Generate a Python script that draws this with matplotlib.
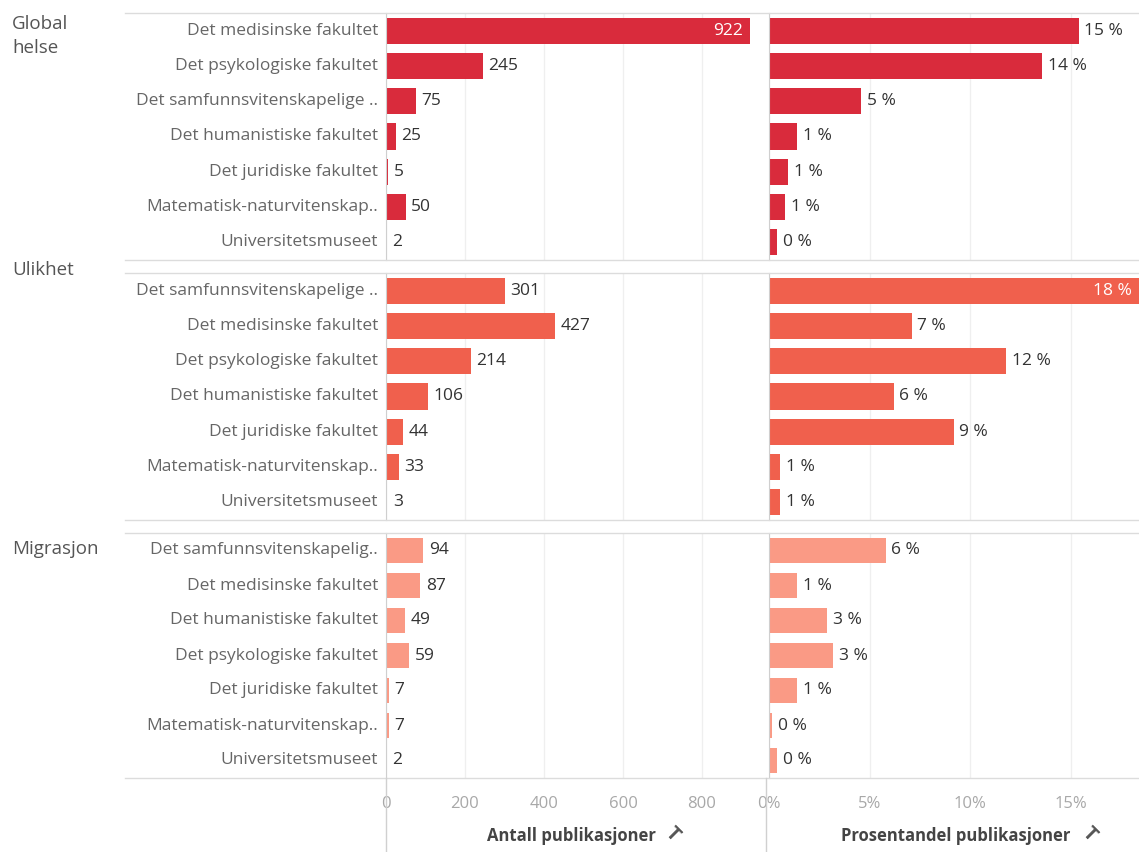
import matplotlib
matplotlib.use('Agg')
import matplotlib.pyplot as plt
from matplotlib.lines import Line2D

plt.rcParams['font.family'] = ['Open Sans', 'DejaVu Sans']

groups = ['Global\nhelse', 'Ulikhet', 'Migrasjon']

labels_global = ['Det medisinske fakultet', 'Det psykologiske fakultet',
                 'Det samfunnsvitenskapelige ..', 'Det humanistiske fakultet',
                 'Det juridiske fakultet', 'Matematisk-naturvitenskap..',
                 'Universitetsmuseet']
labels_ulikhet = ['Det samfunnsvitenskapelige ..', 'Det medisinske fakultet',
                  'Det psykologiske fakultet', 'Det humanistiske fakultet',
                  'Det juridiske fakultet', 'Matematisk-naturvitenskap..',
                  'Universitetsmuseet']
labels_migrasjon = ['Det samfunnsvitenskapelig..', 'Det medisinske fakultet',
                    'Det humanistiske fakultet', 'Det psykologiske fakultet',
                    'Det juridiske fakultet', 'Matematisk-naturvitenskap..',
                    'Universitetsmuseet']

count_global = [922, 245, 75, 25, 5, 50, 2]
count_ulikhet = [301, 427, 214, 106, 44, 33, 3]
count_migrasjon = [94, 87, 49, 59, 7, 7, 2]

# andel (prosent), lest av bildet; etikettene er avrundet
pct_global = [15.4, 13.6, 4.6, 1.4, 0.95, 0.8, 0.4]
pct_ulikhet = [18.4, 7.1, 11.8, 6.2, 9.2, 0.55, 0.55]
pct_migrasjon = [5.8, 1.4, 2.9, 3.2, 1.4, 0.15, 0.4]

count_ticks = [0, 200, 400, 600, 800]
pct_ticks = [0, 5, 10, 15]

colors = ['#d92b3c', '#f0604d', '#fa9a85']

W, H = 1139, 852
fig = plt.figure(figsize=(W / 100, H / 100), dpi=100)


def fx(x):
    return x / W


def fy(y):
    return 1 - y / H


def hline(y, x0=125, x1=W):
    fig.add_artist(Line2D([fx(x0), fx(x1)], [fy(y), fy(y)],
                          color='#dcdcdc', lw=1.0, transform=fig.transFigure))


def vline(x, y0, y1):
    fig.add_artist(Line2D([fx(x), fx(x)], [fy(y0), fy(y1)],
                          color='#d0d0d0', lw=1.0, transform=fig.transFigure))


panels = [
    (labels_global, count_global, pct_global, 13, 260),
    (labels_ulikhet, count_ulikhet, pct_ulikhet, 273, 520),
    (labels_migrasjon, count_migrasjon, pct_migrasjon, 533, 778),
]

cx0, cx1 = 386, 763
px0, px1 = 769, W
count_max = (cx1 - cx0) / 0.395
pct_max = (px1 - px0) / 20.1

text_col = '#555555'
val_col = '#333333'
fs = 12.5

for i, (labs, cnt, pct, top, bot) in enumerate(panels):
    h = bot - top
    ax_c = fig.add_axes([fx(cx0), fy(bot), fx(cx1 - cx0), h / H])
    ax_p = fig.add_axes([fx(px0), fy(bot), fx(px1 - px0), h / H])
    y = list(range(len(labs)))
    for ax, vals, xmax, ticks, fmt in [
            (ax_c, cnt, count_max, count_ticks, '{:.0f}'),
            (ax_p, pct, pct_max, pct_ticks, '{:.0f} %')]:
        ax.barh(y, vals, height=0.74, color=colors[i], zorder=2)
        ax.set_xlim(0, xmax)
        ax.set_ylim(len(labs) - 0.5, -0.5)
        ax.set_xticks(ticks)
        ax.grid(axis='x', color='#efefef', lw=0.9, zorder=0)
        ax.set_yticks([])
        for s in ['top', 'right', 'bottom']:
            ax.spines[s].set_visible(False)
        ax.spines['left'].set_color('#cfcfcf')
        ax.tick_params(axis='x', length=0, labelbottom=False)
        for yy, v in zip(y, vals):
            txt = fmt.format(round(v))
            if v > 0.9 * xmax:
                ax.annotate(txt, (v, yy), xytext=(-5, 0),
                            textcoords='offset points', ha='right',
                            va='center', color='white', fontsize=fs)
            else:
                ax.annotate(txt, (v, yy), xytext=(4, 0),
                            textcoords='offset points', ha='left',
                            va='center', color=val_col, fontsize=fs)
        if i == 2:
            ax.tick_params(axis='x', labelbottom=True, pad=13,
                           labelcolor='#a8a8a8', labelsize=12)
    if i == 2:
        ax_p.set_xticklabels([f'{t}%' for t in pct_ticks])
    # radetiketter
    for yy, lab in enumerate(labs):
        fig.text(fx(378), fy(top + (yy + 0.5) * h / len(labs)), lab,
                 ha='right', va='center', color='#666666', fontsize=fs)
    hline(top)
    hline(bot)

fig.text(fx(12), fy(15), groups[0], ha='left', va='top', color=text_col,
         fontsize=13.5, linespacing=1.45)
fig.text(fx(12), fy(270), groups[1], ha='left', va='center', color=text_col,
         fontsize=13.5)
fig.text(fx(12), fy(549), groups[2], ha='left', va='center', color=text_col,
         fontsize=13.5)

# akselinjer under nederste panel
vline(cx0, 778, H)
vline(cx1 + 3, 778, H)

fig.text(fx(571), fy(836), 'Antall publikasjoner', ha='center',
         va='center', color='#444444', fontsize=12, fontweight='bold')
fig.text(fx(956), fy(836), 'Prosentandel publikasjoner', ha='center',
         va='center', color='#444444', fontsize=12, fontweight='bold')
for x in [672, 1089]:
    fig.text(fx(x), fy(834), 'T', ha='center', va='center', color='#555555',
             fontsize=14, fontweight='bold', rotation=-45)

fig.savefig('out.png', dpi=100)
